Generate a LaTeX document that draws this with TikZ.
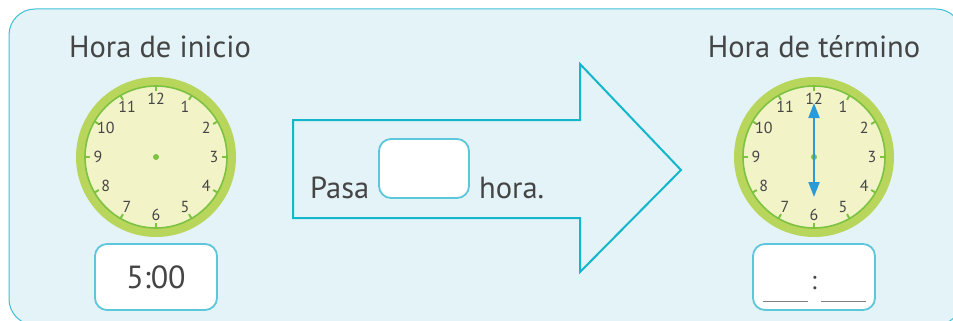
\documentclass[tikz,border=0pt]{standalone}
\usepackage{fontspec}
\setmainfont{PT Sans}
\usepackage{xcolor}
\usetikzlibrary{arrows.meta}
\definecolor{panelfill}{HTML}{E3F3F8}
\definecolor{panelline}{HTML}{3EC1D5}
\definecolor{arrowline}{HTML}{14B6CC}
\definecolor{boxline}{HTML}{5CC7DA}
\definecolor{ringgreen}{HTML}{B8D65C}
\definecolor{tickgreen}{HTML}{7DC242}
\definecolor{facecream}{HTML}{F2F4C8}
\definecolor{handblue}{HTML}{2A9BD8}
\definecolor{inkgray}{HTML}{454545}
\newcommand{\clockface}[3]{%
  \fill[ringgreen] (#2,#3) circle (80pt);
  \fill[facecream] (#2,#3) circle (71pt);
  \draw[tickgreen,line width=1.6pt] (#2,#3) circle (71pt);
  \coordinate (#1) at (#2,#3);
  \foreach \h in {1,...,12}
    {\draw[tickgreen,line width=2pt] ([shift={(\h*30-90:71)}]#1) -- ([shift={(\h*30-90:66)}]#1);
     \node[numlabel] at ([shift={(\h*30-90:58)}]#1) {\h};}%
  \fill[tickgreen] (#1) circle (3pt);
}

\begin{document}
\begin{tikzpicture}[x=1pt,y=-1pt,
  title/.style={font=\fontsize{30.5}{33}\selectfont,text=inkgray,inner sep=0pt},
  numlabel/.style={font=\fontsize{16}{18}\selectfont,text=inkgray,inner sep=0pt},
  answerbox/.style={draw=boxline,fill=white,line width=1.8pt,rounded corners=12pt,
    font=\fontsize{32}{34}\selectfont,text=inkgray},
  hand/.style={handblue,line width=2pt,-{Triangle[length=15pt,width=11pt]}}]
  \useasboundingbox (0,0) rectangle (953,321);
  \draw[panelline,fill=panelfill,line width=1pt,rounded corners=26pt] (9,9) rectangle (962,325);
  % titles
  \node[title,anchor=base] (starttitle) at (160,57.5) {Hora de inicio};
  \node[title,anchor=base] (endtitle) at (814,57.5) {Hora de término};
  % clocks
  \clockface{startclock}{156}{157}
  \clockface{endclock}{814}{157}
  \draw[hand] (endclock) -- (814,103);
  \draw[hand] (endclock) -- (814,197);
  % big arrow
  \draw[arrowline,line width=2pt,line join=miter]
    (293,120) -- (580,120) -- (580,64) -- (681,170) -- (580,272) -- (580,218) -- (293,218) -- cycle;
  \node[title,anchor=base west] (pasa) at (310,198) {Pasa};
  \node[answerbox,minimum width=90pt,minimum height=59pt] (hourbox) at (424,168.5) {};
  \node[title,anchor=base west] (hora) at (479,198) {hora.};
  % time boxes
  \node[answerbox,minimum width=122pt,minimum height=66pt] (startbox) at (156,277) {5:00};
  \node[answerbox,minimum width=122pt,minimum height=66pt] (endbox) at (814,277) {};
  \node[numlabel,font=\fontsize{26}{28}\selectfont] (colon) at (814,283) {:};
  \draw[gray,line width=1pt] (763,301) -- (808,301);
  \draw[gray,line width=1pt] (821,301) -- (866,301);
\end{tikzpicture}
\end{document}
